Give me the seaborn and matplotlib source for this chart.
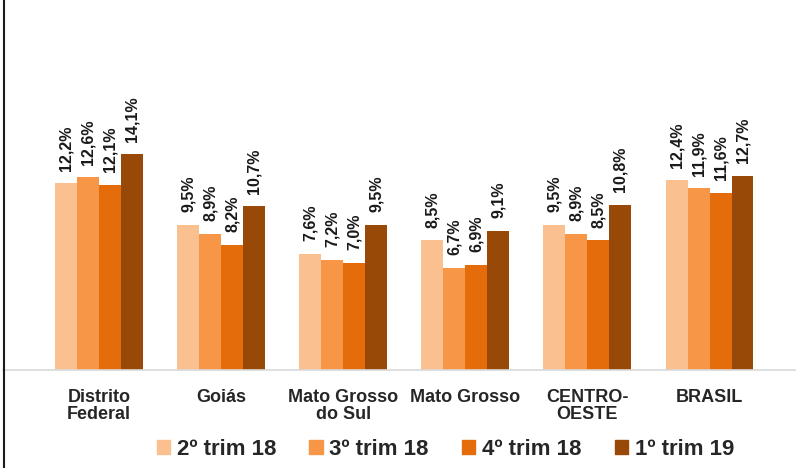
import numpy as np
import pandas as pd
import seaborn as sns
import matplotlib.pyplot as plt
from matplotlib.lines import Line2D

# Data
regioes = ['Distrito\nFederal', 'Goiás', 'Mato Grosso\ndo Sul', 'Mato Grosso', 'CENTRO-\nOESTE', 'BRASIL']
periodos = ['2º trim 18', '3º trim 18', '4º trim 18', '1º trim 19']
trim2_18 = [12.2, 9.5, 7.6, 8.5, 9.5, 12.4]
trim3_18 = [12.6, 8.9, 7.2, 6.7, 8.9, 11.9]
trim4_18 = [12.1, 8.2, 7.0, 6.9, 8.5, 11.6]
trim1_19 = [14.1, 10.7, 9.5, 9.1, 10.8, 12.7]
cores = ['#FAC090', '#F79646', '#E46C0A', '#984807']

rows = []
for per, vals in zip(periodos, [trim2_18, trim3_18, trim4_18, trim1_19]):
    for reg, v in zip(regioes, vals):
        rows.append({'Regiao': reg, 'Periodo': per, 'Taxa': v})
df = pd.DataFrame(rows)

sns.set_style('white')
plt.rcParams['font.family'] = ['Liberation Sans', 'DejaVu Sans']

fig = plt.figure(figsize=(8.01, 4.68), dpi=100)
ax = fig.add_axes([3 / 801, 98 / 468, 792 / 801, 370 / 468])

sns.barplot(data=df, x='Regiao', y='Taxa', hue='Periodo', order=regioes,
            hue_order=periodos, palette=cores, width=0.72, saturation=1,
            edgecolor='none', ax=ax, legend=False)

for cont in ax.containers:
    ax.bar_label(cont, labels=[('%.1f%%' % v).replace('.', ',') for v in cont.datavalues],
                 rotation=90, padding=9, fontsize=11.5, fontweight='bold', color='#1a1a1a')

ax.set_xlim(-0.787, 5.70)
ax.set_ylim(0, 24.2)
ax.set_xlabel('')
ax.set_ylabel('')
ax.set_yticks([])
ax.tick_params(axis='x', length=0, pad=14)
for lab in ax.get_xticklabels():
    lab.set_fontsize(13)
    lab.set_fontweight('bold')
    lab.set_linespacing(1.0)
for s in ['top', 'right', 'left']:
    ax.spines[s].set_visible(False)
ax.spines['bottom'].set_color('#D9D9D9')
ax.spines['bottom'].set_linewidth(1.2)

handles = [plt.Rectangle((0, 0), 1, 1, color=c) for c in cores]
fig.legend(handles, periodos, loc='center', bbox_to_anchor=(0.556, 0.040), ncol=4,
           frameon=False, prop={'size': 16, 'weight': 'bold'}, handlelength=0.6,
           handleheight=0.55, handletextpad=0.3, columnspacing=1.5)

fig.add_artist(Line2D([3.5 / 801, 3.5 / 801], [0, 1], color='#1a1a1a', linewidth=1.5))

plt.savefig('out.png', dpi=100)
